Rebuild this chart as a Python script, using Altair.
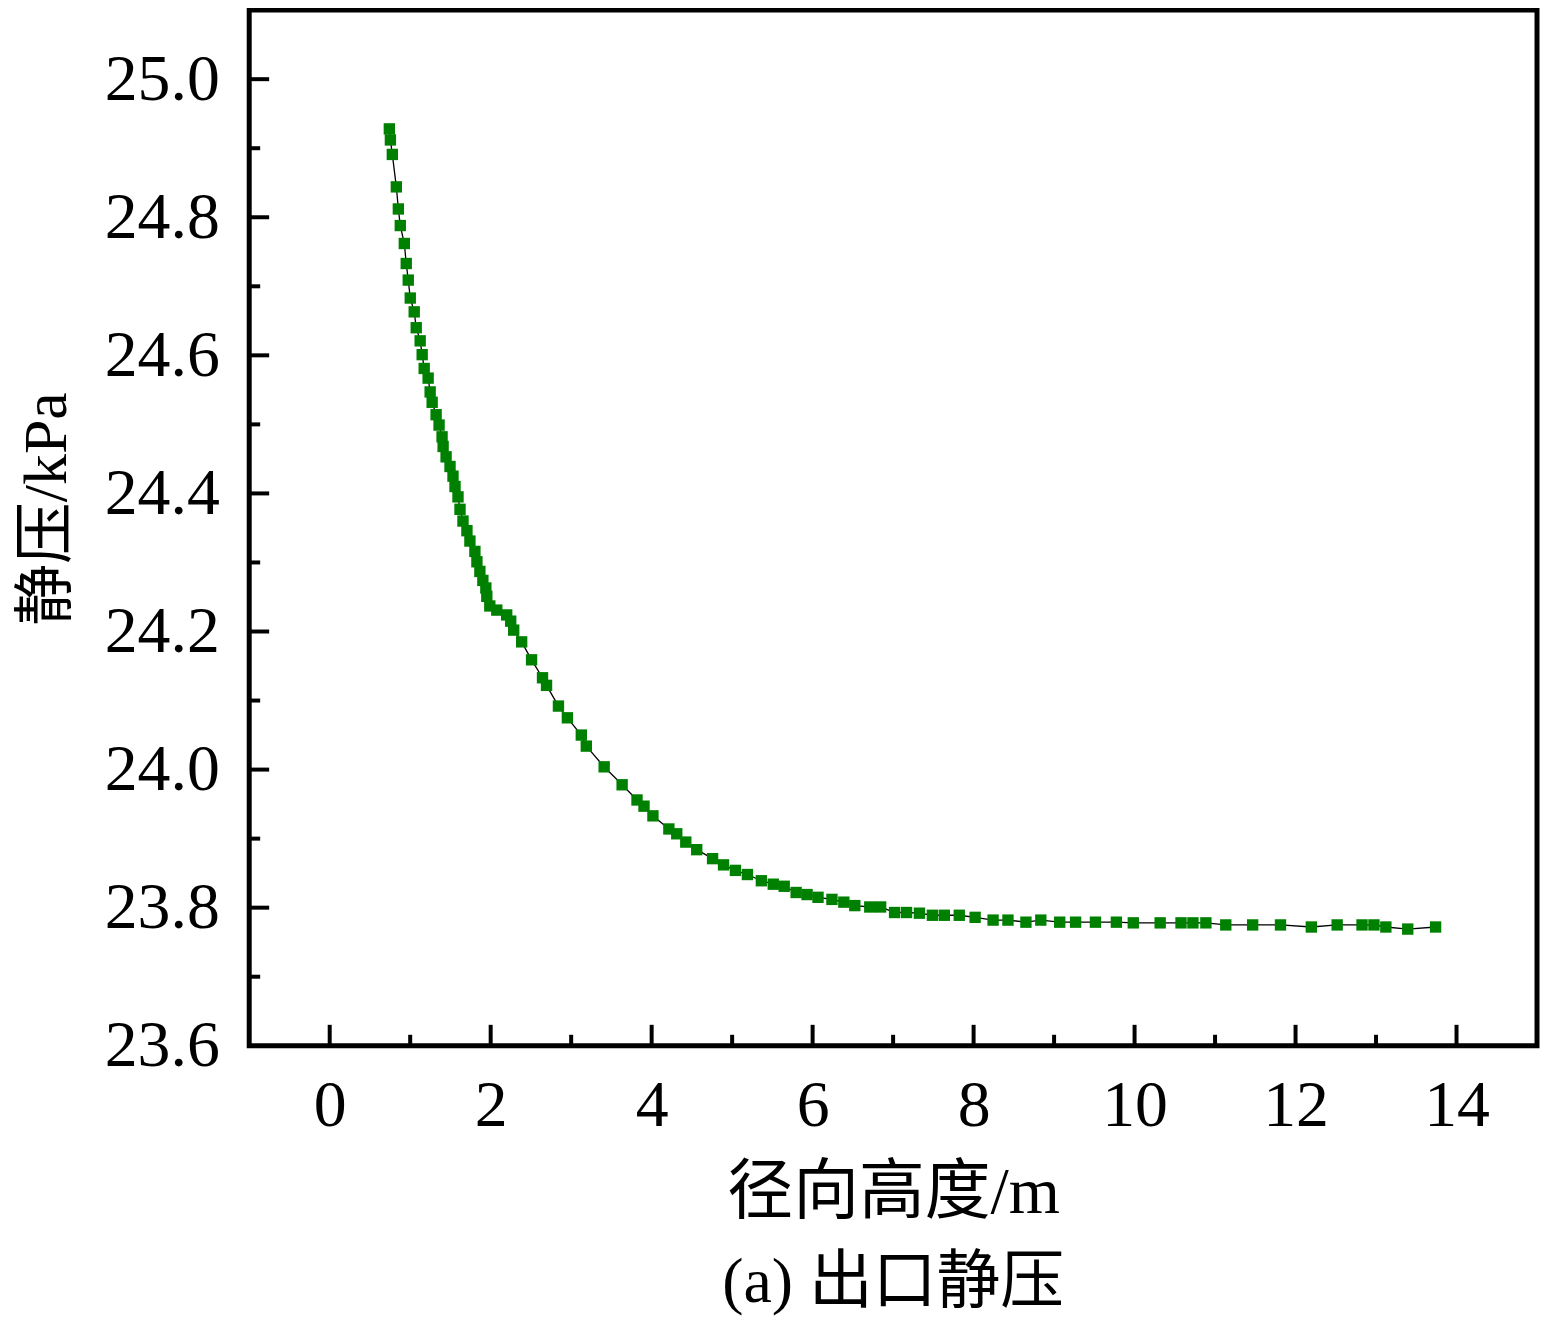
import altair as alt
import pandas as pd

# 径向高度 (m)
radial_height = [
    0.741, 0.754, 0.778, 0.828, 0.853, 0.877, 0.927, 0.951, 0.976, 1.001,
    1.050, 1.075, 1.124, 1.149, 1.174, 1.223, 1.248, 1.273, 1.322, 1.359,
    1.396, 1.409, 1.446, 1.495, 1.532, 1.557, 1.594, 1.619, 1.656, 1.705,
    1.742, 1.804, 1.829, 1.866, 1.903, 1.940, 1.952, 1.989, 2.076, 2.199,
    2.249, 2.286, 2.385, 2.508, 2.644, 2.694, 2.842, 2.953, 3.126, 3.188,
    3.410, 3.633, 3.818, 3.905, 4.016, 4.214, 4.312, 4.424, 4.560, 4.757,
    4.893, 5.041, 5.190, 5.363, 5.511, 5.647, 5.795, 5.931, 6.067, 6.240,
    6.388, 6.524, 6.710, 6.845, 7.018, 7.167, 7.327, 7.488, 7.636, 7.822,
    8.019, 8.242, 8.427, 8.650, 8.835, 9.070, 9.267, 9.514, 9.774, 9.984,
    10.318, 10.577, 10.725, 10.886, 11.133, 11.467, 11.813, 12.196, 12.517, 12.826,
    12.974, 13.122, 13.394, 13.740,
]
# 静压 (kPa)
static_pressure = [
    24.928, 24.912, 24.891, 24.844, 24.812, 24.788, 24.762, 24.733, 24.709, 24.683,
    24.663, 24.640, 24.621, 24.601, 24.581, 24.567, 24.547, 24.532, 24.514, 24.499,
    24.482, 24.468, 24.453, 24.439, 24.425, 24.410, 24.395, 24.377, 24.360, 24.346,
    24.331, 24.316, 24.301, 24.287, 24.274, 24.263, 24.251, 24.237, 24.231, 24.224,
    24.215, 24.202, 24.185, 24.159, 24.133, 24.122, 24.092, 24.075, 24.050, 24.034,
    24.004, 23.978, 23.956, 23.947, 23.933, 23.914, 23.907, 23.895, 23.884, 23.871,
    23.862, 23.854, 23.848, 23.839, 23.834, 23.831, 23.822, 23.819, 23.815, 23.812,
    23.808, 23.803, 23.801, 23.801, 23.793, 23.793, 23.792, 23.789, 23.789, 23.789,
    23.786, 23.782, 23.782, 23.779, 23.782, 23.779, 23.779, 23.779, 23.779, 23.778,
    23.778, 23.778, 23.778, 23.778, 23.775, 23.775, 23.775, 23.772, 23.775, 23.775,
    23.775, 23.772, 23.769, 23.772,
]

x_major = [0, 2, 4, 6, 8, 10, 12, 14]
x_minor = [1, 3, 5, 7, 9, 11, 13]
y_major = [23.8, 24.0, 24.2, 24.4, 24.6, 24.8, 25.0]
y_minor = [23.7, 23.9, 24.1, 24.3, 24.5, 24.7, 24.9]
y_labels = [23.6] + y_major

x_domain = [-1, 15]
y_domain = [23.6, 25.1]

W, H = 1292, 1039
FONT = "Liberation Serif, Times New Roman, Noto Sans CJK SC"
FS = 66

df = pd.DataFrame({"r": radial_height, "p": static_pressure})
xs = alt.Scale(domain=x_domain, nice=False, zero=False)
ys = alt.Scale(domain=y_domain, nice=False, zero=False)

x_axis = alt.Axis(
    values=x_major, format="d", grid=False, ticks=False, domain=False,
    labelFont=FONT, labelFontSize=FS, labelColor="black", labelPadding=28,
    title="径向高度/m", titleFont=FONT, titleFontSize=FS, titleFontWeight="normal",
    titleColor="black", titlePadding=22,
)
y_axis = alt.Axis(
    values=y_labels, format=".1f", grid=False, ticks=False, domain=False,
    labelFont=FONT, labelFontSize=FS, labelColor="black", labelPadding=30,
    labelBaseline="middle",
    title="静压/kPa", titleFont=FONT, titleFontSize=62, titleFontWeight="normal",
    titleColor="black", titlePadding=26, titleY=500,
)

line = alt.Chart(df).mark_line(color="black", strokeWidth=1.3).encode(
    x=alt.X("r:Q", scale=xs, axis=x_axis),
    y=alt.Y("p:Q", scale=ys, axis=y_axis),
    order="r:Q",
)
pts = alt.Chart(df).mark_square(color="#008000", size=130, opacity=1).encode(
    x=alt.X("r:Q", scale=xs, axis=x_axis),
    y=alt.Y("p:Q", scale=ys, axis=y_axis),
)

def xticks(vals, length):
    return alt.Chart(pd.DataFrame({"r": vals})).mark_rule(
        color="black", strokeWidth=4
    ).encode(
        x=alt.X("r:Q", scale=xs, axis=x_axis),
        y=alt.value(H),
        y2=alt.value(H - length),
    )

def yticks(vals, length):
    return alt.Chart(pd.DataFrame({"p": vals})).mark_rule(
        color="black", strokeWidth=4
    ).encode(
        y=alt.Y("p:Q", scale=ys, axis=y_axis),
        x=alt.value(0),
        x2=alt.value(length),
    )

chart = alt.layer(
    xticks(x_major, 21), xticks(x_minor, 11),
    yticks(y_major, 20), yticks(y_minor, 11),
    line, pts,
).properties(
    width=W, height=H,
    background="white",
    autosize=alt.AutoSizeParams(type="none"),
    padding={"left": 242, "top": 0, "right": 3, "bottom": 272},
    title=alt.TitleParams(
        "(a) 出口静压", orient="bottom", anchor="middle", offset=26,
        font=FONT, fontSize=64, fontWeight="normal", color="black",
    ),
).configure_view(
    stroke="black", strokeWidth=5, fill="white"
)

chart.save("out.html", embed_options={"renderer": "svg", "actions": False})
